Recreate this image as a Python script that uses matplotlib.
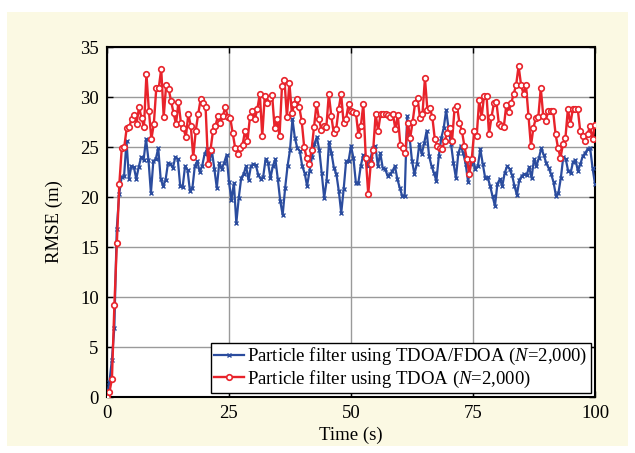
import numpy as np
import matplotlib
matplotlib.use("Agg")
import matplotlib.pyplot as plt
from matplotlib.patches import Rectangle

# ---- data ----
rmse_tdoa_fdoa = [
    0.2, 1.5, 3.7, 6.9, 16.8, 20.3, 22.0, 22.1, 25.6, 21.8, 23.1, 23.0, 21.8, 23.0, 24.0, 23.7,
    25.8, 23.7, 20.4, 23.6, 23.8, 24.9, 21.8, 21.1, 21.7, 23.4, 23.3, 22.9,
    24.0, 23.8, 21.1, 21.0, 23.1, 22.7, 20.6, 20.9, 23.1, 23.6, 22.5, 23.1, 24.3, 24.8, 23.6,
    24.6, 22.8, 20.9, 23.4, 22.8, 23.4, 24.2, 21.5, 19.7, 21.4, 17.4, 19.9, 21.9, 22.3,
    23.1, 21.7, 23.1, 23.3, 23.2, 22.2, 21.8, 22.0, 23.8, 23.4, 21.9, 23.1, 23.8, 21.8, 19.6,
    18.2, 20.9, 23.1, 24.7, 27.8, 25.9, 24.9, 24.6, 23.1, 22.4, 21.1, 22.6, 24.0, 25.3, 26.0,
    24.7, 22.4, 19.9, 21.6, 25.5, 24.4, 22.9, 22.3, 20.6, 18.4, 20.8, 23.6, 23.6, 25.1, 23.9,
    21.4, 21.4, 23.1, 24.2, 23.8, 23.1, 23.8, 24.9, 25.1, 23.1, 24.4, 22.9, 22.8, 22.1,
    22.3, 22.6, 23.1, 21.8, 20.9, 20.1, 20.1, 28.1, 26.0, 23.6, 22.3, 23.3, 25.3, 24.3, 25.4,
    26.6, 24.1, 23.1, 22.4, 21.6, 24.1, 25.9, 26.9, 28.7, 26.8, 25.3, 23.4, 21.9,
    24.4, 25.1, 24.4, 23.3, 21.5, 23.3, 23.8, 22.8, 23.1, 24.8, 23.3, 21.9, 22.0, 21.1, 20.1,
    19.1, 21.3, 21.8, 21.1, 22.4, 23.1, 22.8, 22.2, 21.1, 20.2, 21.7, 22.1, 22.3, 22.2,
    23.0, 21.9, 23.8, 23.1, 23.9, 24.9, 24.2, 23.4, 22.9, 22.3, 21.5, 20.1, 20.4, 21.9, 24.0,
    23.8, 22.6, 22.4, 23.5, 23.7, 22.6, 23.3, 24.1, 24.4, 24.8, 24.9, 22.9, 21.3,
]

rmse_tdoa = [
    0.0, 0.5, 1.8, 9.2, 15.4, 21.3, 24.9, 25.0, 26.9, 27.0, 27.8, 28.2, 27.3, 29.0, 27.9, 27.0,
    32.3, 28.6, 25.8, 27.3, 30.9, 30.9, 32.8, 28.0, 31.2, 30.8, 29.6,
    28.4, 27.3, 29.5, 27.4, 26.9, 26.0, 28.3, 27.1, 24.0, 26.6, 28.3, 29.8, 29.4, 29.0, 23.3,
    24.7, 26.6, 27.1, 28.1, 27.4, 28.1, 29.0, 28.0, 27.9, 26.4, 24.9, 24.3, 24.9, 25.2,
    26.6, 25.6, 28.0, 28.6, 27.8, 28.8, 30.3, 26.1, 30.1, 29.4, 29.9, 30.2, 26.9, 27.8, 26.1,
    31.1, 31.7, 28.0, 31.4, 28.4, 29.3, 29.8, 29.0, 27.6, 25.0, 23.9, 23.3, 24.7, 27.0,
    29.3, 27.8, 26.7, 27.1, 27.0, 30.3, 28.1, 26.4, 26.8, 28.8, 30.3, 27.4, 27.8, 29.3, 28.6,
    28.5, 28.4, 26.2, 27.1, 29.3, 23.9, 20.3, 23.3, 24.7, 28.3, 26.6, 28.3, 28.3,
    28.3, 28.2, 28.0, 28.3, 26.8, 28.2, 25.2, 24.9, 24.4, 27.4, 25.9, 27.5, 29.4, 29.9, 27.9,
    28.3, 31.9, 28.7, 28.9, 28.0, 25.8, 25.1, 24.9, 24.8, 25.6, 26.4, 26.9, 25.6, 28.8,
    29.1, 27.4, 26.6, 25.1, 23.8, 22.3, 23.8, 26.6, 26.1, 29.7, 28.0, 30.1, 30.1, 26.3, 28.0,
    29.4, 29.5, 27.3, 27.1, 27.0, 29.2, 28.5, 29.4, 30.3, 31.2, 33.1, 31.2, 30.3, 31.2,
    28.1, 25.1, 26.9, 27.9, 28.0, 30.9, 28.1, 27.6, 28.6, 28.6, 28.6, 26.3, 24.9, 23.9, 25.3,
    25.9, 28.8, 27.3, 28.8, 28.8, 28.8, 26.6, 26.1, 25.6, 26.3, 27.1, 25.8, 27.2,
]

t_start, t_end = 0, 100
x_ticks = [0, 25, 50, 75, 100]
y_ticks = [0, 5, 10, 15, 20, 25, 30, 35]
label_fdoa = "Particle filter using TDOA/FDOA ($N$=2,000)"
label_tdoa = "Particle filter using TDOA ($N$=2,000)"

# ---- style ----
plt.rcParams["font.family"] = ["Liberation Serif", "DejaVu Serif"]
plt.rcParams["mathtext.fontset"] = "custom"
plt.rcParams["mathtext.it"] = "Liberation Serif:italic"
plt.rcParams["mathtext.rm"] = "Liberation Serif"

FS = 13.5

fig = plt.figure(figsize=(6.35, 4.53), dpi=100, facecolor="white")
bg = Rectangle((7 / 635, 7 / 453), 621 / 635, 434 / 453,
               transform=fig.transFigure, facecolor="#fbf9e3",
               edgecolor="none", zorder=-10)
fig.add_artist(bg)
ax = fig.add_axes([107 / 635, 1 - 397 / 453, 488 / 635, 350 / 453])
ax.set_zorder(1)
ax.set_facecolor("white")

t1 = np.linspace(t_start, t_end, len(rmse_tdoa_fdoa))
t2 = np.linspace(t_start, t_end, len(rmse_tdoa))

blue = "#2b4c9e"
red = "#e8232b"
ax.plot(t1, rmse_tdoa_fdoa, color=blue, lw=1.6, marker="x", ms=3.0, mew=1.0,
        label=label_fdoa, zorder=3)
ax.plot(t2, rmse_tdoa, color=red, lw=1.7, marker="o", ms=4.0, mew=1.2,
        mfc="white", mec=red, label=label_tdoa, zorder=4)

ax.set_xlim(t_start, t_end)
ax.set_ylim(0, 35)
ax.set_xticks(x_ticks)
ax.set_yticks(y_ticks)
ax.grid(True, color="#9a9a9a", lw=1.0)
ax.set_axisbelow(True)
ax.tick_params(direction="in", length=4, width=1, labelsize=FS, top=True, right=True,
               pad=6)
for s in ax.spines.values():
    s.set_linewidth(1.5)
    s.set_color("black")

ax.set_xlabel("Time (s)", fontsize=FS, labelpad=3)
ax.set_ylabel("RMSE (m)", fontsize=FS, labelpad=12)

leg = ax.legend(loc="lower right", fontsize=FS, handlelength=1.6, handletextpad=0.15,
                borderaxespad=0.2, borderpad=0.2, labelspacing=0.05,
                fancybox=False, framealpha=1, edgecolor="black")
leg.get_frame().set_linewidth(1.0)

fig.savefig("out.png", dpi=100, facecolor="white")
